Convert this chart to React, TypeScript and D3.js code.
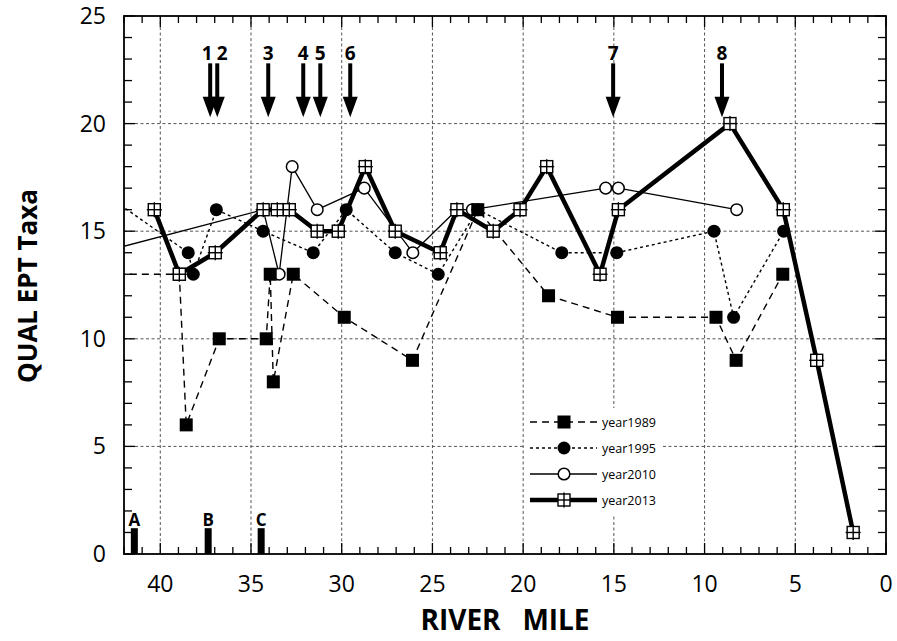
import React, { useRef, useEffect } from 'react'
import * as d3 from 'd3'

// axis ticks
const xTicks = [40, 35, 30, 25, 20, 15, 10, 5, 0]
const yTicks = [0, 5, 10, 15, 20, 25]
const xGrid = [40, 35, 30, 25, 20, 15, 10, 5]
const yGrid = [5, 10, 15, 20]

// series (river mile, qual EPT taxa); first points of some series sit past the left edge
const miles1989 = [43, 38.95, 38.57, 36.75, 34.16, 33.94, 33.77, 32.67, 29.86, 26.1, 22.5, 18.6, 14.8, 9.37, 8.26, 5.69]
const taxa1989 = [13, 13, 6, 10, 10, 13, 8, 13, 11, 9, 16, 12, 11, 11, 9, 13]

const miles1995 = [43, 38.46, 38.18, 36.91, 34.33, 31.57, 29.75, 27.05, 24.68, 22.5, 17.87, 14.84, 9.48, 8.4, 5.64]
const taxa1995 = [16.7, 14, 13, 16, 15, 14, 16, 14, 13, 16, 14, 14, 15, 11, 15]

const miles2010 = [44, 34.33, 33.45, 32.73, 31.35, 28.76, 26.08, 23.65, 22.8, 15.45, 14.75, 8.23]
const taxa2010 = [13.86, 16, 13, 18, 16, 17, 14, 16, 16, 17, 17, 16]

const miles2013 = [40.33, 38.95, 36.97, 34.33, 33.55, 32.89, 31.35, 30.19, 28.7, 27.05, 24.57, 23.65, 21.65, 20.17, 18.7, 15.76, 14.75, 8.6, 5.66, 3.82, 1.81]
const taxa2013 = [16, 13, 14, 16, 16, 16, 15, 15, 18, 15, 14, 16, 15, 16, 18, 13, 16, 20, 16, 9, 1]

// numbered arrows at the top
const arrowLabels = ['1', '2', '3', '4', '5', '6', '7', '8']
const arrowMiles = [37.25, 36.86, 34.05, 32.12, 31.18, 29.53, 15.04, 9.04]

// lettered bars at the bottom
const siteLabels = ['A', 'B', 'C']
const siteMiles = [41.43, 37.36, 34.44]

const seriesNames = ['year1989', 'year1995', 'year2010', 'year2013']

const FONT = '"Open Sans", "Noto Sans", sans-serif'

const App = () => {
  const visEl = useRef<SVGSVGElement | null>(null)
  const width = 897
  const height = 641

  useEffect(() => {
    const svg = d3.select(visEl.current)
    svg.selectAll('*').remove()

    const left = 124, right = 886, top = 16, bottom = 554
    const xScale = d3.scaleLinear().domain([42, 0]).range([left, right])
    const yScale = d3.scaleLinear().domain([0, 25]).range([bottom, top])

    svg.append('defs').append('clipPath').attr('id', 'plot-clip')
      .append('rect')
      .attr('x', left).attr('y', top)
      .attr('width', right - left).attr('height', bottom - top)

    // grid
    const grid = svg.append('g')
    grid.selectAll('line.vg').data(xGrid).join('line')
      .attr('x1', d => xScale(d)).attr('x2', d => xScale(d))
      .attr('y1', top).attr('y2', bottom)
      .attr('stroke', '#555').attr('stroke-width', 1).attr('stroke-dasharray', '3,2.5')
    grid.selectAll('line.hg').data(yGrid).join('line')
      .attr('x1', left).attr('x2', right)
      .attr('y1', d => yScale(d)).attr('y2', d => yScale(d))
      .attr('stroke', '#555').attr('stroke-width', 1).attr('stroke-dasharray', '3,2.5')

    // minor / major ticks, inward on all four sides
    const ticks = svg.append('g').attr('stroke', '#000').attr('stroke-width', 1.3)
    d3.range(0, 43).forEach(m => {
      const len = m % 5 === 0 ? 11 : 7
      const x = xScale(m)
      ticks.append('line').attr('x1', x).attr('x2', x).attr('y1', bottom).attr('y2', bottom - len)
      ticks.append('line').attr('x1', x).attr('x2', x).attr('y1', top).attr('y2', top + len)
    })
    d3.range(0, 26).forEach(v => {
      const len = v % 5 === 0 ? 11 : 8
      const y = yScale(v)
      ticks.append('line').attr('x1', left).attr('x2', left + len).attr('y1', y).attr('y2', y)
      ticks.append('line').attr('x1', right).attr('x2', right - len).attr('y1', y).attr('y2', y)
    })

    // frame
    svg.append('rect')
      .attr('x', left).attr('y', top)
      .attr('width', right - left).attr('height', bottom - top)
      .attr('fill', 'none').attr('stroke', '#000').attr('stroke-width', 1.8)

    // tick labels
    svg.append('g').selectAll('text').data(xTicks).join('text')
      .attr('x', d => xScale(d)).attr('y', 592)
      .attr('text-anchor', 'middle')
      .attr('font-family', FONT).attr('font-size', 23)
      .text(d => d)
    svg.append('g').selectAll('text').data(yTicks).join('text')
      .attr('x', 106).attr('y', d => yScale(d) + 8)
      .attr('text-anchor', 'end')
      .attr('font-family', FONT).attr('font-size', 23)
      .text(d => d)

    // axis titles
    svg.append('text')
      .attr('transform', 'translate(37,286) rotate(-90)')
      .attr('text-anchor', 'middle')
      .attr('font-family', FONT).attr('font-weight', 700).attr('font-size', 26)
      .text('QUAL EPT Taxa')
    svg.append('text')
      .attr('x', 505).attr('y', 630)
      .attr('text-anchor', 'middle')
      .attr('font-family', FONT).attr('font-weight', 700).attr('font-size', 28)
      .style('white-space', 'pre')
      .text('RIVER   MILE')

    // series
    const toPoints = (ms: number[], vs: number[]) => ms.map((m, i) => [m, vs[i]] as [number, number])
    const series = [
      { name: seriesNames[0], pts: toPoints(miles1989, taxa1989), dash: '7,5', width: 1.4, marker: 'square' },
      { name: seriesNames[1], pts: toPoints(miles1995, taxa1995), dash: '3,3', width: 1.4, marker: 'dot' },
      { name: seriesNames[2], pts: toPoints(miles2010, taxa2010), dash: null, width: 1.3, marker: 'ring' },
      { name: seriesNames[3], pts: toPoints(miles2013, taxa2013), dash: null, width: 4.5, marker: 'hash' },
    ]

    const lineGen = d3.line<[number, number]>()
      .x(d => xScale(d[0]))
      .y(d => yScale(d[1]))

    const plot = svg.append('g').attr('clip-path', 'url(#plot-clip)')
    series.forEach(s => {
      plot.append('path')
        .attr('d', lineGen(s.pts))
        .attr('fill', 'none').attr('stroke', '#000')
        .attr('stroke-width', s.width)
        .attr('stroke-dasharray', s.dash)
        .attr('stroke-linejoin', 'round')
    })

    const drawMarker = (g: any, kind: string, cx: number, cy: number) => {
      if (kind === 'square') {
        g.append('rect').attr('x', cx - 6.5).attr('y', cy - 6.5).attr('width', 13).attr('height', 13).attr('fill', '#000')
      } else if (kind === 'dot') {
        g.append('circle').attr('cx', cx).attr('cy', cy).attr('r', 6.5).attr('fill', '#000')
      } else if (kind === 'ring') {
        g.append('circle').attr('cx', cx).attr('cy', cy).attr('r', 5.8)
          .attr('fill', '#fff').attr('stroke', '#000').attr('stroke-width', 1.5)
      } else {
        g.append('rect').attr('x', cx - 6).attr('y', cy - 6).attr('width', 12).attr('height', 12)
          .attr('fill', '#fff').attr('stroke', '#000').attr('stroke-width', 1.4)
        g.append('line').attr('x1', cx).attr('x2', cx).attr('y1', cy - 7.5).attr('y2', cy + 7.5)
          .attr('stroke', '#000').attr('stroke-width', 1.4)
        g.append('line').attr('x1', cx - 7.5).attr('x2', cx + 7.5).attr('y1', cy).attr('y2', cy)
          .attr('stroke', '#000').attr('stroke-width', 1.4)
      }
    }

    // markers: 2010, 1995, 1989, then 2013 on top
    const markerOrder = [2, 1, 0, 3]
    const marks = svg.append('g')
    markerOrder.forEach(k => {
      const s = series[k]
      s.pts.filter(p => p[0] <= 42).forEach(p => drawMarker(marks, s.marker, xScale(p[0]), yScale(p[1])))
    })

    // arrows
    const arrows = svg.append('g')
    arrowMiles.forEach((m, i) => {
      const x = xScale(m)
      const yTip = yScale(20.3), yBase = yScale(21.25), yTop = yScale(22.8)
      arrows.append('rect').attr('x', x - 2).attr('y', yTop).attr('width', 4).attr('height', yBase - yTop + 1).attr('fill', '#000')
      arrows.append('path')
        .attr('d', `M${x - 7.5},${yBase} L${x + 7.5},${yBase} L${x},${yTip} Z`)
        .attr('fill', '#000')
      const shift = i === 0 ? -3 : i === 1 ? 5 : 0
      arrows.append('text')
        .attr('x', x + shift).attr('y', yScale(22.95))
        .attr('text-anchor', 'middle')
        .attr('font-family', FONT).attr('font-weight', 700).attr('font-size', 19)
        .text(arrowLabels[i])
    })

    // sites
    const sites = svg.append('g')
    siteMiles.forEach((m, i) => {
      const x = xScale(m)
      sites.append('rect').attr('x', x - 3.5).attr('y', yScale(1.2)).attr('width', 7).attr('height', yScale(0) - yScale(1.2)).attr('fill', '#000')
      sites.append('text')
        .attr('x', x).attr('y', yScale(1.3))
        .attr('text-anchor', 'middle')
        .attr('font-family', FONT).attr('font-weight', 700).attr('font-size', 17)
        .text(siteLabels[i])
    })

    // legend
    const lg = svg.append('g')
    lg.append('rect').attr('x', 525).attr('y', 408).attr('width', 138).attr('height', 106).attr('fill', '#fff')
    series.forEach((s, i) => {
      const y = 422 + i * 26
      lg.append('line').attr('x1', 530).attr('x2', 597).attr('y1', y).attr('y2', y)
        .attr('stroke', '#000').attr('stroke-width', s.width)
        .attr('stroke-dasharray', s.dash)
      drawMarker(lg, s.marker, 564, y)
      lg.append('text')
        .attr('x', 602).attr('y', y + 4.5)
        .attr('font-family', FONT).attr('font-size', 12.5)
        .text(s.name)
    })
  }, [])

  return (
    <div>
      <svg ref={visEl} width={width} height={height}
        style={{ position: 'absolute', left: 0, top: 0, background: '#fff' }} />
    </div>
  )
}

export default App
